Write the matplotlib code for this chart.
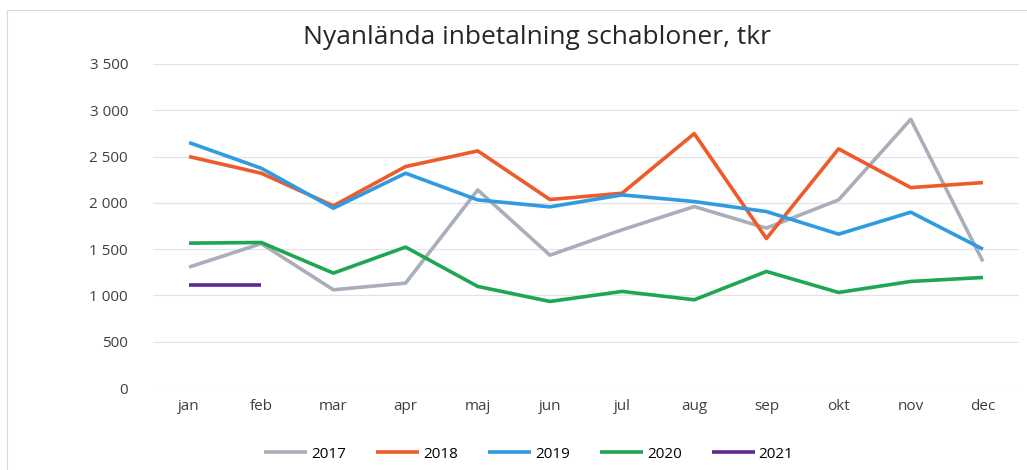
import matplotlib
matplotlib.use("Agg")
import matplotlib.pyplot as plt
from matplotlib.patches import Rectangle
from matplotlib.ticker import FuncFormatter

plt.rcParams['font.family'] = ['Open Sans', 'DejaVu Sans']

months = ["jan", "feb", "mar", "apr", "maj", "jun", "jul", "aug", "sep", "okt", "nov", "dec"]
years = ["2017", "2018", "2019", "2020", "2021"]

v2017 = [1306, 1560, 1061, 1133, 2140, 1435, 1709, 1960, 1727, 2032, 2903, 1367]
v2018 = [2500, 2320, 1968, 2392, 2561, 2036, 2104, 2748, 1615, 2583, 2165, 2219]
v2019 = [2651, 2374, 1942, 2320, 2032, 1957, 2086, 2014, 1906, 1662, 1899, 1500]
v2020 = [1565, 1572, 1241, 1522, 1097, 935, 1043, 953, 1259, 1032, 1151, 1194]
v2021 = [1115, 1115]

colors = ["#A9AEBB", "#EE5A2A", "#2F9BE0", "#1FA653", "#5B2A95"]

fig = plt.figure(figsize=(10.27, 4.70), dpi=100)
ax = fig.add_axes([153 / 1027, 1 - 388 / 470, (1019 - 153) / 1027, (388 - 64) / 470])

series = [v2017, v2018, v2019, v2020, v2021]
for name, vals, c in zip(years, series, colors):
    ax.plot(range(len(vals)), vals, color=c, lw=2.6, label=name, solid_capstyle="butt")

ax.set_xlim(-0.5, 11.5)
ax.set_ylim(0, 3500)
ax.set_yticks(range(0, 3501, 500))
ax.yaxis.set_major_formatter(FuncFormatter(lambda v, p: f"{int(v):,}".replace(",", " ")))
ax.set_xticks(range(12))
ax.set_xticklabels(months)
ax.grid(axis="y", color="#E3E3E3", lw=0.9)
ax.set_axisbelow(True)
for s in ax.spines.values():
    s.set_visible(False)
ax.tick_params(length=0, labelsize=11, colors="#404040")
ax.tick_params(axis="y", pad=18)
ax.tick_params(axis="x", pad=8)

fig.text(0.523, 1 - 38 / 470, "Nyanlända inbetalning schabloner, tkr", ha="center", va="center",
         fontsize=19, color="#262626")

fig.legend(loc="center", bbox_to_anchor=(0.515, 1 - 454 / 470), ncol=5, frameon=False,
           fontsize=11, handlelength=2.8, columnspacing=2.0, handletextpad=0.25)

fig.patches.append(Rectangle((7 / 1027, -0.1), 1.2, 1 - 10 / 470 + 0.1, transform=fig.transFigure,
                             fill=False, edgecolor="#D9D9D9", lw=0.8))

fig.savefig("out.png", dpi=100)
